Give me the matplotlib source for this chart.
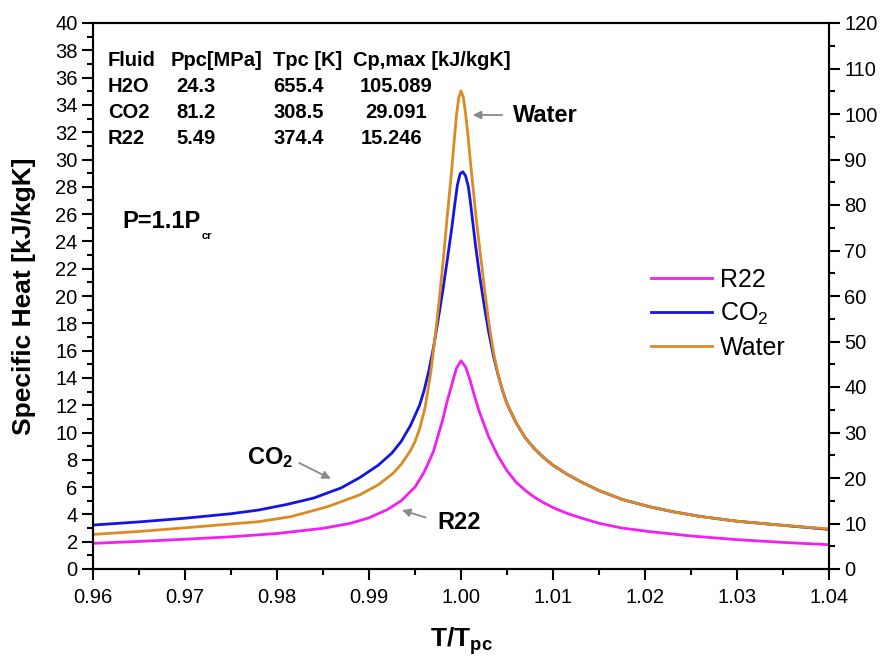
import matplotlib
matplotlib.use('Agg')
import matplotlib.pyplot as plt
from matplotlib.ticker import MultipleLocator, FormatStrFormatter

# Fuente tipo Arial
plt.rcParams['font.family'] = ['Liberation Sans', 'DejaVu Sans']
plt.rcParams['mathtext.fontset'] = 'custom'
plt.rcParams['mathtext.rm'] = 'Liberation Sans'
plt.rcParams['mathtext.bf'] = 'Liberation Sans:bold'
plt.rcParams['mathtext.it'] = 'Liberation Sans:italic'
plt.rcParams['mathtext.default'] = 'regular'

# Datos (T/Tpc)
x_r22 = [0.960, 0.965, 0.970, 0.975, 0.980, 0.985, 0.988, 0.990, 0.992, 0.9935,
         0.995, 0.996, 0.997, 0.998, 0.9985, 0.999, 0.9995, 1.000, 1.0005, 1.001,
         1.0015, 1.002, 1.003, 1.004, 1.005, 1.006, 1.007, 1.008, 1.009, 1.010,
         1.0115, 1.013, 1.015, 1.0175, 1.0205, 1.025, 1.030, 1.035, 1.040]
cp_r22 = [1.88, 2.02, 2.18, 2.36, 2.60, 2.98, 3.35, 3.75, 4.35, 5.00,
          6.00, 7.10, 8.60, 10.90, 12.30, 13.50, 14.70, 15.25, 14.80, 13.80,
          12.60, 11.50, 9.70, 8.30, 7.20, 6.35, 5.75, 5.25, 4.85, 4.50,
          4.08, 3.75, 3.35, 3.00, 2.74, 2.42, 2.15, 1.95, 1.78]

x_co2 = [0.960, 0.965, 0.970, 0.975, 0.978, 0.981, 0.984, 0.987, 0.989, 0.991,
         0.9925, 0.9935, 0.9945, 0.9955, 0.996, 0.9965, 0.997, 0.9975, 0.998, 0.9985,
         0.999, 0.9993, 0.9996, 0.9999, 1.0002, 1.0005, 1.0008, 1.001, 1.0013, 1.0016,
         1.002, 1.0025, 1.003, 1.0035, 1.004, 1.0045, 1.005, 1.006, 1.007, 1.008,
         1.009, 1.010, 1.0115, 1.013, 1.015, 1.0175, 1.0205, 1.023, 1.026, 1.030,
         1.035, 1.040]
cp_co2 = [3.22, 3.45, 3.72, 4.05, 4.32, 4.72, 5.20, 5.95, 6.70, 7.60,
          8.50, 9.35, 10.50, 12.00, 13.10, 14.50, 16.20, 18.20, 20.30, 22.60,
          25.00, 26.60, 28.10, 28.95, 29.10, 28.80, 28.00, 27.00, 25.30, 23.60,
          21.60, 19.40, 17.40, 15.70, 14.30, 13.10, 12.10, 10.70, 9.60, 8.80,
          8.15, 7.60, 6.95, 6.40, 5.75, 5.10, 4.56, 4.20, 3.85, 3.50,
          3.20, 2.90]

# agua en el eje derecho (0-120)
x_water = [0.960, 0.965, 0.970, 0.975, 0.978, 0.9815, 0.9855, 0.989, 0.991, 0.9926,
           0.9935, 0.9945, 0.995, 0.9955, 0.9961, 0.9967, 0.9973, 0.9977, 0.9981, 0.9985,
           0.9989, 0.9992, 0.9995, 0.99975, 1.000, 1.00025, 1.0005, 1.00075, 1.001, 1.0013,
           1.0016, 1.002, 1.0025, 1.003, 1.0035, 1.004, 1.0045, 1.005, 1.006, 1.007,
           1.008, 1.009, 1.010, 1.0115, 1.013, 1.015, 1.0175, 1.0205, 1.023, 1.026,
           1.030, 1.035, 1.040]
cp_water = [7.6, 8.25, 9.05, 9.9, 10.4, 11.5, 13.7, 16.3, 18.5, 21.0,
            23.0, 26.0, 28.0, 30.8, 35.5, 43.0, 53.0, 60.5, 68.5, 77.4,
            85.8, 92.7, 99.6, 103.5, 105.09, 103.7, 100.0, 95.5, 90.0, 84.0,
            78.0, 71.0, 62.5, 54.5, 48.0, 43.0, 39.3, 36.3, 32.1, 28.8,
            26.4, 24.45, 22.8, 20.85, 19.2, 17.25, 15.3, 13.7, 12.6, 11.55,
            10.5, 9.6, 8.8]

# tabla de propiedades
tabla_cols = ['Fluid', 'Ppc[MPa]', 'Tpc [K]', 'Cp,max [kJ/kgK]']
fluidos = ['H2O', 'CO2', 'R22']
ppc = ['24.3', '81.2', '5.49']
tpc = ['655.4', '308.5', '374.4']
cpmax = ['105.089', '29.091', '15.246']

c_r22 = '#f21ff0'
c_co2 = '#1414e6'
c_water = '#dc8a22'

W, H = 883, 666
fig = plt.figure(figsize=(W / 100, H / 100), dpi=100)
ax = fig.add_axes([93 / W, 1 - 569 / H, (829 - 93) / W, (569 - 23) / H])
ax2 = ax.twinx()

l1, = ax.plot(x_r22, cp_r22, color=c_r22, lw=2.0, label='R22')
l2, = ax.plot(x_co2, cp_co2, color=c_co2, lw=2.0, label='CO$_2$')
l3, = ax2.plot(x_water, cp_water, color=c_water, lw=2.0, label='Water')

ax.set_xlim(0.96, 1.04)
ax.set_ylim(0, 40)
ax2.set_ylim(0, 120)
ax.xaxis.set_major_locator(MultipleLocator(0.01))
ax.xaxis.set_minor_locator(MultipleLocator(0.005))
ax.yaxis.set_major_locator(MultipleLocator(2))
ax.yaxis.set_minor_locator(MultipleLocator(1))
ax2.yaxis.set_major_locator(MultipleLocator(10))
ax2.yaxis.set_minor_locator(MultipleLocator(5))
ax.xaxis.set_major_formatter(FormatStrFormatter('%.2f'))

for a in (ax, ax2):
    for s in a.spines.values():
        s.set_linewidth(1.5)
    a.tick_params(which='major', direction='out', length=8, width=1.5, labelsize=14.5, pad=3)
    a.tick_params(which='minor', direction='out', length=4.5, width=1.5)
ax.tick_params(axis='x', which='major', pad=6)
ax.tick_params(top=False, right=False, which='both')
ax2.tick_params(left=False, which='both')

ax.set_ylabel('Specific Heat [kJ/kgK]', fontsize=19, fontweight='bold', labelpad=14)
ax.set_xlabel(r'T/T$_{\mathbf{pc}}$', fontsize=19, fontweight='bold', labelpad=13)

# tabla en la esquina
def fx(px):
    return px / W

def fy(py):
    return 1 - py / H

col_x = [108, 171, 273, 353]
fila_y = [60, 86, 112, 139]
for cx, t in zip(col_x, tabla_cols):
    fig.text(fx(cx), fy(fila_y[0]), t, fontsize=14.5, fontweight='bold', va='center')
for i in range(3):
    fig.text(fx(108), fy(fila_y[i + 1]), fluidos[i], fontsize=14.5, fontweight='bold', va='center')
    fig.text(fx(176), fy(fila_y[i + 1]), ppc[i], fontsize=14.5, fontweight='bold', va='center')
    fig.text(fx(273), fy(fila_y[i + 1]), tpc[i], fontsize=14.5, fontweight='bold', va='center')
cp_x = [360, 365, 361]
for i in range(3):
    fig.text(fx(cp_x[i]), fy(fila_y[i + 1]), cpmax[i], fontsize=14.5, fontweight='bold', va='center')

fig.text(fx(122), fy(222), 'P=1.1P', fontsize=17, fontweight='bold', va='center')
fig.text(fx(202), fy(236), 'cr', fontsize=8, fontweight='bold', va='center')

# flechas y etiquetas
flecha = dict(arrowstyle='-|>', color='#8a8a8a', lw=1.3, mutation_scale=12)
ax.annotate('', xy=(1.00098, 33.26), xytext=(1.00478, 33.26), arrowprops=flecha)
ax.text(1.00565, 33.26, 'Water', fontsize=17, fontweight='bold', va='center')
ax.annotate('', xy=(0.98612, 6.52), xytext=(0.98214, 7.86), arrowprops=flecha)
ax.text(0.97671, 8.13, 'CO$_\\mathbf{2}$', fontsize=17, fontweight='bold', va='center')
ax.annotate('', xy=(0.99330, 4.37), xytext=(0.99645, 3.71), arrowprops=flecha)
ax.text(0.99742, 3.42, 'R22', fontsize=17, fontweight='bold', va='center')

ax2.legend(handles=[l1, l2, l3], loc='upper left', bbox_to_anchor=(fx(651), fy(268)),
           bbox_transform=fig.transFigure, frameon=False, fontsize=18, borderpad=0,
           handlelength=2.45, handletextpad=0.3, labelspacing=0.36, borderaxespad=0)

fig.savefig('out.png', dpi=100)
